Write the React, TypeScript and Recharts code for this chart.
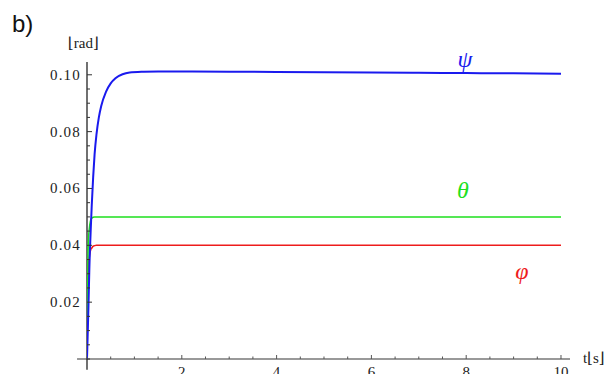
import React from 'react';
import { LineChart, Line, XAxis, YAxis, ReferenceLine } from 'recharts';

// time samples [s]
const times = [0, 0.01, 0.02, 0.03, 0.05, 0.08, 0.1, 0.13, 0.16, 0.2, 0.25, 0.3, 0.4, 0.5, 0.6, 0.75, 0.9, 1.2, 1.5, 2, 3, 4, 5, 6, 7, 8, 9, 10];

// angles [rad]
const psi = [0, 0.006, 0.012, 0.018, 0.032, 0.046, 0.054, 0.064, 0.072, 0.079, 0.085, 0.089, 0.094, 0.097, 0.0988, 0.1002, 0.1008, 0.1011, 0.1012, 0.1012, 0.1011, 0.101, 0.1009, 0.1008, 0.1007, 0.1006, 0.1005, 0.1004];
const theta = [0, 0.02, 0.035, 0.042, 0.046, 0.049, 0.0495, 0.0499, 0.05, 0.05, 0.05, 0.05, 0.05, 0.05, 0.05, 0.05, 0.05, 0.05, 0.05, 0.05, 0.05, 0.05, 0.05, 0.05, 0.05, 0.05, 0.05, 0.05];
const phi = [0, 0.015, 0.027, 0.033, 0.036, 0.0385, 0.039, 0.0397, 0.0399, 0.04, 0.04, 0.04, 0.04, 0.04, 0.04, 0.04, 0.04, 0.04, 0.04, 0.04, 0.04, 0.04, 0.04, 0.04, 0.04, 0.04, 0.04, 0.04];

const xTicks = Array.from({ length: 21 }, (_, i) => i * 0.5);
const xLabels = [2, 4, 6, 8, 10];
const yTicks = Array.from({ length: 21 }, (_, i) => +(i * 0.005).toFixed(3));
const yLabels = [0.02, 0.04, 0.06, 0.08, 0.1];

const data = times.map((t, i) => ({ t, psi: psi[i], theta: theta[i], phi: phi[i] }));

const serif = { fontFamily: "'Liberation Serif', 'DejaVu Serif', serif" };
const sans = { fontFamily: "'Liberation Sans', Arial, sans-serif" };

const XTick = (props: any) => {
  const { x, y, payload } = props;
  const v = payload.value;
  const major = xLabels.some((l) => Math.abs(l - v) < 1e-6);
  return (
    <g>
      <line x1={x} x2={x} y1={y} y2={y - (major ? 4 : 2.5)} stroke="#555" strokeWidth={1} />
      {major && (
        <text x={x} y={y + 18} textAnchor="middle" style={serif} fontSize={15} fill="#222">
          {v}
        </text>
      )}
    </g>
  );
};

const YTick = (props: any) => {
  const { x, y, payload } = props;
  const v = payload.value;
  const major = yLabels.some((l) => Math.abs(l - v) < 1e-6);
  const ax = x + 7;
  return (
    <g>
      <line x1={ax} x2={ax + (major ? 5 : 3)} y1={y} y2={y} stroke="#333" strokeWidth={1} />
      {major && (
        <text x={x + 1} y={y + 5} textAnchor="end" style={serif} fontSize={15} letterSpacing={1.2} fill="#222">
          {v.toFixed(2)}
        </text>
      )}
    </g>
  );
};

export default function App() {
  return (
    <div style={{ position: 'absolute', left: 0, top: 0, width: 606, height: 374, background: '#fff' }}>
      <LineChart width={606} height={374} data={data} margin={{ top: 62, right: 36, bottom: 0, left: 27 }}>
        <XAxis
          dataKey="t"
          type="number"
          domain={[0, 10.19]}
          allowDataOverflow
          ticks={xTicks}
          tick={<XTick />}
          tickSize={0}
          tickMargin={0}
          axisLine={false}
          height={15}
          interval={0}
        />
        <YAxis
          type="number"
          domain={[0, 0.1045]}
          allowDataOverflow
          ticks={yTicks}
          tick={<YTick />}
          tickSize={0}
          tickMargin={7}
          axisLine={false}
          width={60}
          interval={0}
        />
        <ReferenceLine
          segment={[{ x: -0.21, y: 0 }, { x: 10.19, y: 0 }]}
          ifOverflow="visible"
          stroke="#777"
          strokeWidth={1.5}
        />
        <ReferenceLine
          segment={[{ x: 0, y: -0.0038 }, { x: 0, y: 0.1045 }]}
          ifOverflow="visible"
          stroke="#111"
          strokeWidth={1.2}
        />
        <Line type="monotone" dataKey="phi" stroke="#ee1c1c" strokeWidth={1.5} dot={false} isAnimationActive={false} />
        <Line type="monotone" dataKey="theta" stroke="#1ee01e" strokeWidth={1.5} dot={false} isAnimationActive={false} />
        <Line type="monotone" dataKey="psi" stroke="#1a1aee" strokeWidth={2} dot={false} isAnimationActive={false} />
      </LineChart>
      <svg width={606} height={374} style={{ position: 'absolute', left: 0, top: 0, pointerEvents: 'none' }}>
        <text x={12} y={32} style={sans} fontSize={24} fill="#111">b)</text>
        <text x={68} y={48} style={serif} fontSize={15} fill="#222">⌊rad⌋</text>
        <text x={583} y={363} style={serif} fontSize={15} fill="#222">t⌊s⌋</text>
        <text x={465} y={67} textAnchor="middle" style={serif} fontStyle="italic" fontSize={24} fill="#1a1aee">ψ</text>
        <text x={463} y={198} textAnchor="middle" style={serif} fontStyle="italic" fontSize={24} fill="#1ee01e">θ</text>
        <text x={522} y={279} textAnchor="middle" style={serif} fontStyle="italic" fontSize={24} fill="#ee1c1c">φ</text>
      </svg>
    </div>
  );
}
